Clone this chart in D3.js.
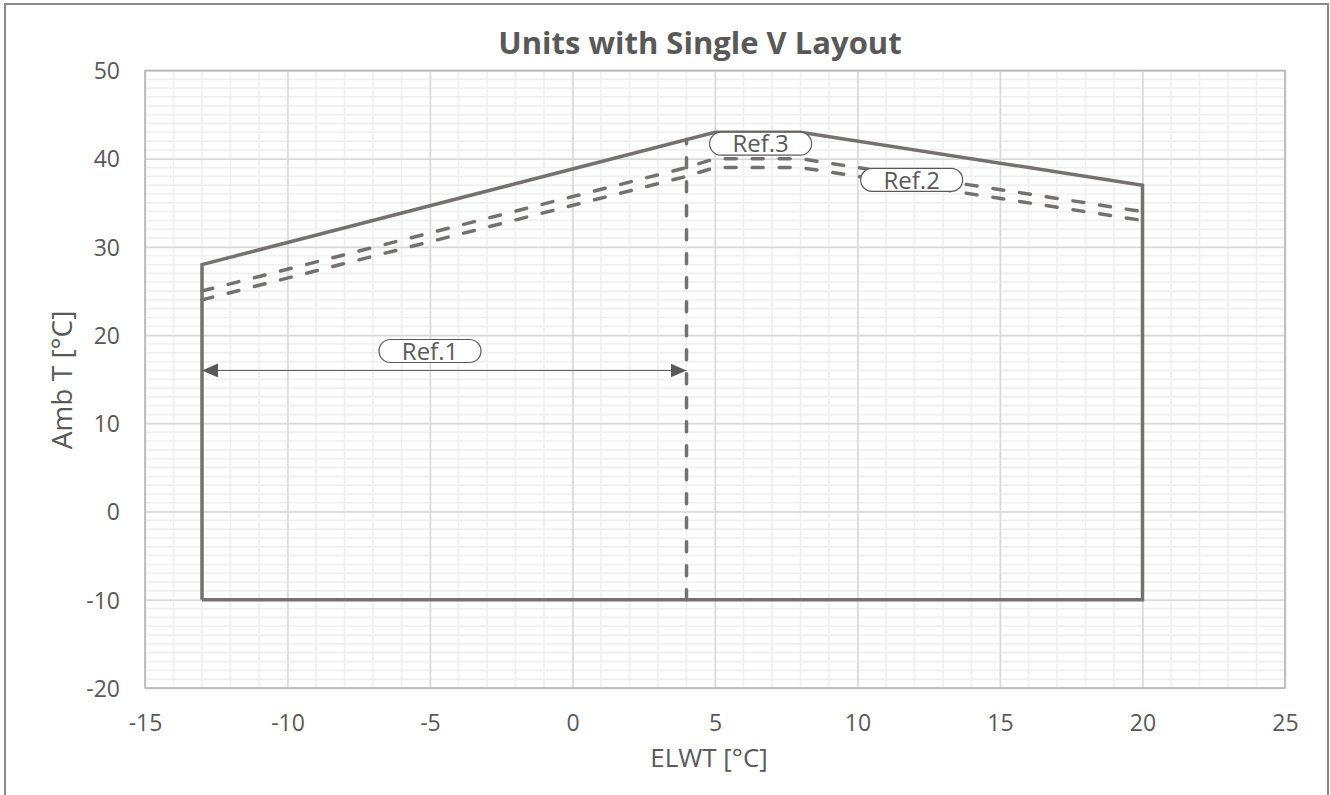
<!DOCTYPE html>
<html>
<head>
<meta charset="utf-8">
<script src="https://cdn.jsdelivr.net/npm/d3@7"></script>
<style>
	body { margin: 0; background: #fff; }
	text { font-family: "Open Sans", Lato, sans-serif; fill: #595959; }
</style>
</head>
<body>
<div id="chart"></div>
<script>
// chart values
const xTicks = [-15, -10, -5, 0, 5, 10, 15, 20, 25];
const yTicks = [-20, -10, 0, 10, 20, 30, 40, 50];

// solid operating envelope
const envelopeX = [-13, -13, 5, 8, 20, 20, -13];
const envelopeY = [-10, 28, 43, 43, 37, -10, -10];

// Ref.2 dashed limits
const ref2X = [-13, 4, 5, 8, 20];
const ref2UpperY = [25, 39, 40, 40, 34];
const ref2LowerY = [24, 38, 39, 39, 33];

// Ref.3 dashed vertical
const ref3X = [4, 4];
const ref3Y = [-10, 42.2];

// Ref.1 arrow
const ref1X = [-13, 4];
const ref1Y = [16, 16];

// annotation labels (in chart units)
const labelNames = ["Ref.1", "Ref.2", "Ref.3"];
const labelX = [-5, 11.9, 6.6];
const labelY = [18.2, 37.6, 41.7];

const W = 1330, H = 795;
const plot = {left: 145, right: 1285, top: 70.5, bottom: 688};
const lineColor = "#767171";

const zip = (xs, ys) => xs.map((x, i) => [x, ys[i]]);

var svg = d3.select("#chart")
	.append("svg")
	.attr("width", W)
	.attr("height", H);

var xScale = d3.scaleLinear().domain([-15, 25]).range([plot.left, plot.right]);
var yScale = d3.scaleLinear().domain([-20, 50]).range([plot.bottom, plot.top]);

// outer chart frame
svg.append("rect")
	.attr("x", 5).attr("y", 4)
	.attr("width", 1323).attr("height", 820)
	.attr("fill", "none")
	.attr("stroke", "#8a8a8a")
	.attr("stroke-width", 2);

// minor grid
svg.append("g")
	.selectAll("line")
	.data(d3.range(-15, 26))
	.enter().append("line")
	.attr("x1", d => xScale(d)).attr("x2", d => xScale(d))
	.attr("y1", plot.top).attr("y2", plot.bottom)
	.attr("stroke", "#f0f0f0").attr("stroke-width", 1.7);

svg.append("g")
	.selectAll("line")
	.data(d3.range(-20, 51))
	.enter().append("line")
	.attr("y1", d => yScale(d)).attr("y2", d => yScale(d))
	.attr("x1", plot.left).attr("x2", plot.right)
	.attr("stroke", "#f0f0f0").attr("stroke-width", 1.7);

// major grid via axes
var xGrid = d3.axisBottom(xScale).tickValues(xTicks).tickSize(-(plot.bottom - plot.top)).tickFormat("");
var yGrid = d3.axisLeft(yScale).tickValues(yTicks).tickSize(-(plot.right - plot.left)).tickFormat("");

svg.append("g")
	.attr("transform", "translate(0," + plot.bottom + ")")
	.call(xGrid)
	.call(g => g.select(".domain").remove())
	.selectAll("line").attr("stroke", "#d9d9d9").attr("stroke-width", 1.5);

svg.append("g")
	.attr("transform", "translate(" + plot.left + ",0)")
	.call(yGrid)
	.call(g => g.select(".domain").remove())
	.selectAll("line").attr("stroke", "#d9d9d9").attr("stroke-width", 1.5);

// plot area border
svg.append("rect")
	.attr("x", plot.left).attr("y", plot.top)
	.attr("width", plot.right - plot.left).attr("height", plot.bottom - plot.top)
	.attr("fill", "none")
	.attr("stroke", "#b4b4b4")
	.attr("stroke-width", 1.5);

// tick labels (plain hyphen for negatives, like the original)
var xAxis = d3.axisBottom(xScale).tickValues(xTicks).tickSize(0).tickPadding(0).tickFormat(d => String(d));
svg.append("g")
	.attr("transform", "translate(0," + plot.bottom + ")")
	.call(xAxis)
	.call(g => g.select(".domain").remove())
	.selectAll("text")
	.attr("y", 43)
	.attr("dy", 0)
	.style("font-size", "23px")
	.style("font-family", "'Open Sans', sans-serif")
	.attr("fill", "#595959");

var yAxis = d3.axisLeft(yScale).tickValues(yTicks).tickSize(0).tickPadding(0).tickFormat(d => String(d));
svg.append("g")
	.attr("transform", "translate(120,0)")
	.call(yAxis)
	.call(g => g.select(".domain").remove())
	.selectAll("text")
	.attr("x", 0)
	.attr("dy", "0.36em")
	.style("font-size", "23px")
	.style("font-family", "'Open Sans', sans-serif")
	.attr("fill", "#595959");

// titles
svg.append("text")
	.attr("x", 700).attr("y", 54)
	.attr("text-anchor", "middle")
	.style("font-size", "31px")
	.style("font-weight", "bold")
	.text("Units with Single V Layout");

svg.append("text")
	.attr("x", 709).attr("y", 767)
	.attr("text-anchor", "middle")
	.style("font-size", "26px")
	.text("ELWT [°C]");

svg.append("text")
	.attr("transform", "translate(72,380) rotate(-90)")
	.attr("text-anchor", "middle")
	.style("font-size", "28px")
	.text("Amb T [°C]");

var line = d3.line().x(d => xScale(d[0])).y(d => yScale(d[1]));

// dashed lines
[ref2UpperY, ref2LowerY].forEach(ys => {
	svg.append("path")
		.attr("d", line(zip(ref2X, ys)))
		.attr("fill", "none")
		.attr("stroke", lineColor)
		.attr("stroke-width", 3.5)
		.attr("stroke-linecap", "round")
		.attr("stroke-dasharray", "11,16");
});

svg.append("path")
	.attr("d", line(zip(ref3X, ref3Y)))
	.attr("fill", "none")
	.attr("stroke", lineColor)
	.attr("stroke-width", 3.5)
	.attr("stroke-linecap", "round")
	.attr("stroke-dasharray", "10,14");

// solid envelope
svg.append("path")
	.attr("d", line(zip(envelopeX, envelopeY)))
	.attr("fill", "none")
	.attr("stroke", lineColor)
	.attr("stroke-width", 3.5)
	.attr("stroke-linejoin", "miter");

// Ref.1 arrow
var defs = svg.append("defs");
defs.append("marker")
	.attr("id", "arrow")
	.attr("viewBox", "0 0 16 14")
	.attr("refX", 16).attr("refY", 7)
	.attr("markerWidth", 16).attr("markerHeight", 14)
	.attr("markerUnits", "userSpaceOnUse")
	.attr("orient", "auto-start-reverse")
	.append("path")
	.attr("d", "M0,0L16,7L0,14Z")
	.attr("fill", "#595959");

svg.append("path")
	.attr("d", line(zip(ref1X, ref1Y)))
	.attr("stroke", "#595959")
	.attr("stroke-width", 1)
	.attr("marker-start", "url(#arrow)")
	.attr("marker-end", "url(#arrow)");

// pill labels
var pills = svg.selectAll(".pill")
	.data(labelNames)
	.enter().append("g")
	.attr("class", "pill")
	.attr("transform", (d, i) => "translate(" + xScale(labelX[i]) + "," + yScale(labelY[i]) + ")");

pills.append("rect")
	.attr("x", -51).attr("y", -11.5)
	.attr("width", 102).attr("height", 23)
	.attr("rx", 11.5).attr("ry", 11.5)
	.attr("fill", "#fff")
	.attr("stroke", "#595959")
	.attr("stroke-width", 1.2);

pills.append("text")
	.attr("text-anchor", "middle")
	.attr("dy", "0.36em")
	.style("font-size", "24px")
	.text(d => d);
</script>
</body>
</html>
